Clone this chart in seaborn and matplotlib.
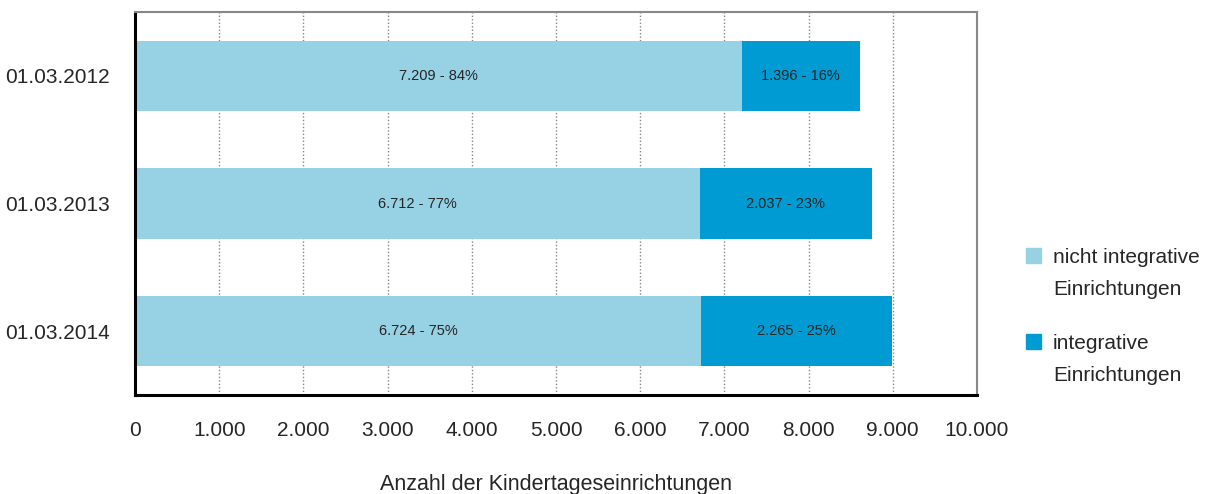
"""
Kindertageseinrichtungen: integrative vs. nicht integrative
"""
import matplotlib.pyplot as plt
import seaborn as sns
import pandas as pd
from matplotlib.patches import Patch

dates = ["01.03.2012", "01.03.2013", "01.03.2014"]
nicht_integrativ = [7209, 6712, 6724]
integrativ = [1396, 2037, 2265]
pct_nicht = [84, 77, 75]
pct_integrativ = [16, 23, 25]
xticks = [0, 1000, 2000, 3000, 4000, 5000, 6000, 7000, 8000, 9000, 10000]
legend_first = ["nicht integrative", "integrative"]
legend_second = "Einrichtungen"

light = "#97D1E4"
dark = "#009BD2"

df = pd.DataFrame({
    "Datum": dates,
    "nicht": nicht_integrativ,
    "integ": integrativ,
})
df["gesamt"] = df["nicht"] + df["integ"]


def de_num(v):
    return f"{v:,}".replace(",", ".")


sns.set_style("white")
plt.rcParams["font.family"] = ["Liberation Sans", "DejaVu Sans"]

fig = plt.figure(figsize=(12.12, 4.94), dpi=100)
ax = fig.add_axes([135 / 1212, 1 - 395 / 494, 842 / 1212, 383 / 494])

# stacked: total underneath, nicht integrative on top
sns.barplot(data=df, x="gesamt", y="Datum", color=dark, width=0.55,
            saturation=1, linewidth=0, ax=ax, zorder=1)
sns.barplot(data=df, x="nicht", y="Datum", color=light, width=0.55,
            saturation=1, linewidth=0, ax=ax, zorder=1.1)

for i, row in df.iterrows():
    ax.text(row["nicht"] / 2, i, f"{de_num(row['nicht'])} - {pct_nicht[i]}%",
            ha="center", va="center", fontsize=10.5, zorder=3)
    ax.text(row["nicht"] + row["integ"] / 2, i,
            f"{de_num(row['integ'])} - {pct_integrativ[i]}%",
            ha="center", va="center", fontsize=10.5, zorder=3)

ax.set_xlim(0, 10000)
ax.set_ylim(2.5, -0.5)
ax.set_xticks(xticks)
ax.set_xticklabels([de_num(t) for t in xticks], fontsize=15)
ax.tick_params(axis="y", labelsize=15, length=0, pad=18)
ax.tick_params(axis="x", length=0, pad=19)
ax.set_ylabel("")
ax.set_xlabel("Anzahl der Kindertageseinrichtungen", fontsize=15.5, labelpad=24)

ax.grid(axis="x", color="#888888", linestyle=(0, (1, 1.5)), linewidth=1)
ax.set_axisbelow(True)

for side in ["top", "right"]:
    ax.spines[side].set_color("#888888")
    ax.spines[side].set_linewidth(1.5)
for side in ["left", "bottom"]:
    ax.spines[side].set_color("black")
    ax.spines[side].set_linewidth(2.2)
for sp in ax.spines.values():
    sp.set_zorder(5)

handles = [Patch(color=light), Patch(color=dark)]
leg = fig.legend(handles, legend_first, loc="upper left",
                 bbox_to_anchor=(1007 / 1212, 1 - 229 / 494),
                 frameon=False, fontsize=15, handlelength=0.75, handleheight=0.75,
                 handletextpad=0.55, labelspacing=3.23)

# second line of each legend label, one line below the first
fig.canvas.draw()
inv = fig.transFigure.inverted()
for t in leg.get_texts():
    bb = t.get_window_extent()
    x0, y0 = inv.transform((bb.x0, bb.y0 - 32))
    fig.text(x0, y0, legend_second, fontsize=15, ha="left", va="bottom")

fig.savefig("out.png", dpi=100)
